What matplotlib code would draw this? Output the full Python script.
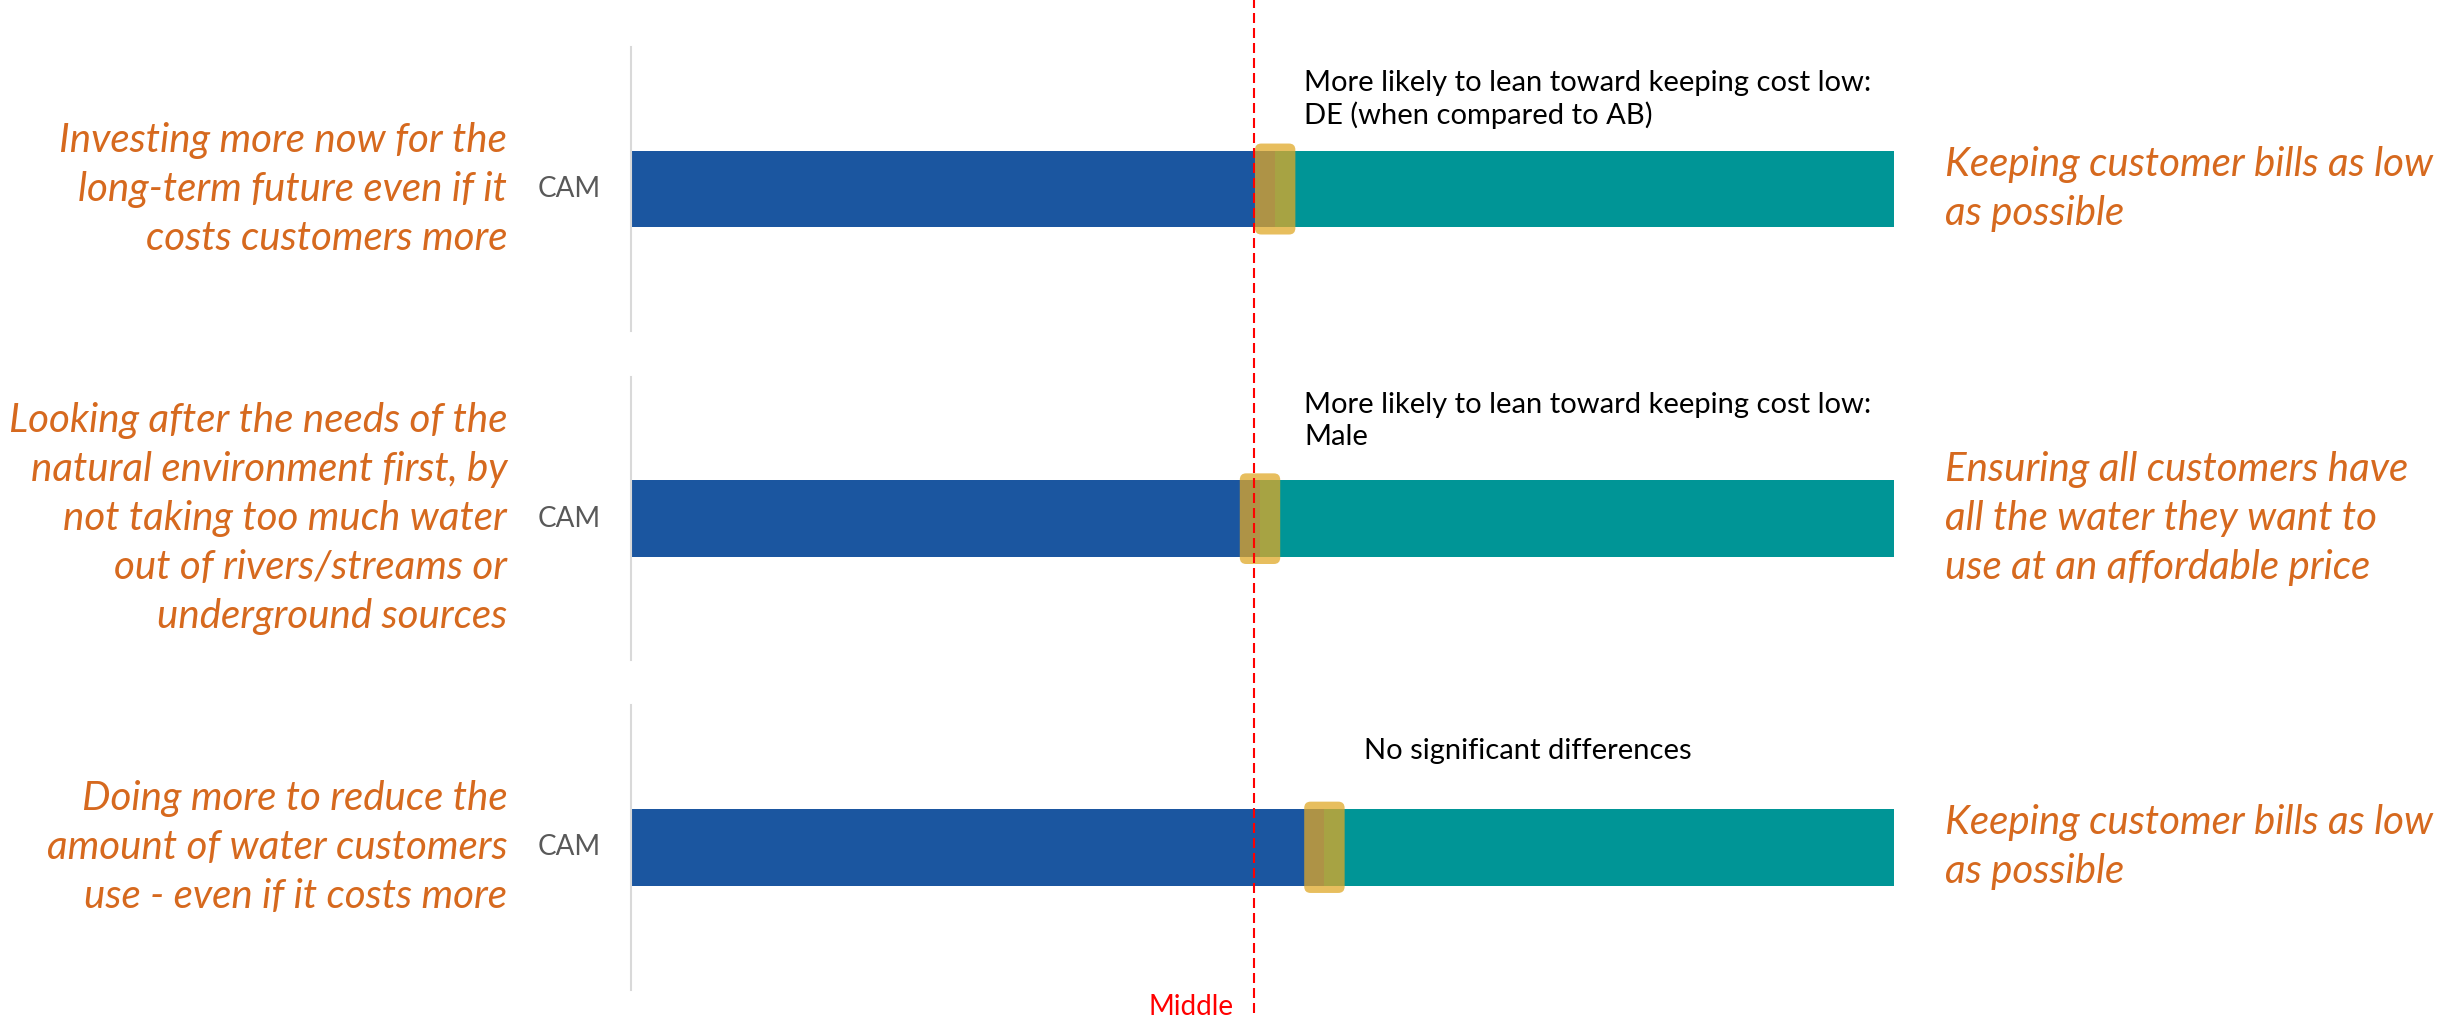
import matplotlib.pyplot as plt
from matplotlib.patches import FancyBboxPatch

# trade-off questions, left option vs right option
left_labels = [
    'Investing more now for the\nlong-term future even if it\ncosts customers more',
    'Looking after the needs of the\nnatural environment first, by\nnot taking too much water\nout of rivers/streams or\nunderground sources',
    'Doing more to reduce the\namount of water customers\nuse - even if it costs more',
]
right_labels = [
    'Keeping customer bills as low\nas possible',
    'Ensuring all customers have\nall the water they want to\nuse at an affordable price',
    'Keeping customer bills as low\nas possible',
]
notes = [
    'More likely to lean toward keeping cost low:\nDE (when compared to AB)',
    'More likely to lean toward keeping cost low:\nMale',
    'No significant differences',
]
group = 'CAM'
left_share = [51.0, 49.8, 54.9]   # % leaning to the left option
middle = 49.3

blue = '#1b56a0'
teal = '#009596'
orange = '#d6691e'
marker_col = '#e0a928'

plt.rcParams['font.family'] = ['Lato', 'DejaVu Sans']

fig = plt.figure(figsize=(24.63, 10.19), dpi=100)

# panel positions in figure fractions (bottom, height)
panels = [(0.675, 0.279), (0.352, 0.278), (0.0285, 0.280)]
left = 0.2562
width = 0.5128
note_x = [53.3, 53.3, 58.0]
note_y = [0.815, 0.845, 0.839]
bar_h = 0.27

for i, (b, h) in enumerate(panels):
    ax = fig.add_axes([left, b, width, h])
    ax.set_xlim(0, 100)
    ax.set_ylim(0, 1)
    v = left_share[i]
    ax.barh(0.5, v, height=bar_h, left=0, color=blue, zorder=2)
    ax.barh(0.5, 100 - v, height=bar_h, left=v, color=teal, zorder=2)

    # highlight around the split point
    mw = 3.2
    box = FancyBboxPatch((v - mw / 2, 0.5 - bar_h / 2 - 0.025), mw, bar_h + 0.05,
                         boxstyle='round,pad=0,rounding_size=0.5',
                         mutation_aspect=0.045,
                         facecolor=marker_col, edgecolor='none', alpha=0.75, zorder=3)
    ax.add_patch(box)

    for s in ['top', 'right', 'bottom']:
        ax.spines[s].set_visible(False)
    ax.spines['left'].set_color('#d9d9d9')
    ax.spines['left'].set_linewidth(1.5)
    ax.set_xticks([])
    ax.set_yticks([])

    ax.text(-4.9, 0.5, group, ha='center', va='center', fontsize=20,
            color='#595959')
    ax.text(-9.8, 0.5, left_labels[i], ha='right', va='center', fontsize=29,
            style='italic', color=orange, linespacing=1.4, clip_on=False)
    ax.text(104.0, 0.5, right_labels[i], ha='left', va='center', fontsize=29,
            style='italic', color=orange, linespacing=1.4, clip_on=False)
    ax.text(note_x[i], note_y[i], notes[i], ha='left', va='center', fontsize=21,
            color='black', linespacing=1.25)

# dashed middle reference line over all panels
top = fig.add_axes([left, 0, width, 1], zorder=10)
top.set_xlim(0, 100)
top.set_ylim(0, 1)
top.axis('off')
top.patch.set_alpha(0)
top.axvline(middle, ymin=0.006, ymax=1, color='red', lw=1.5, linestyle=(0, (4.8, 2.4)))
top.text(middle - 1.6, 0.012, 'Middle', ha='right', va='center', fontsize=20,
         color='red')

fig.savefig('out.png', dpi=100)
